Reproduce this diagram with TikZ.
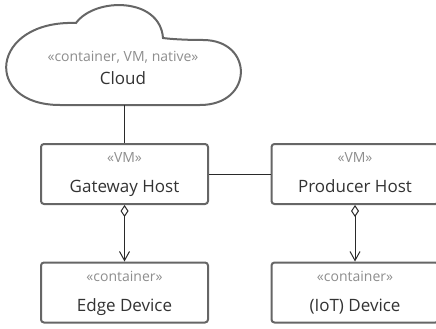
\documentclass[tikz,border=0pt]{standalone}
\usepackage{fontspec}
\setmainfont{Open Sans}
\usetikzlibrary{arrows.meta}
\definecolor{boxline}{HTML}{666666}
\definecolor{conn}{HTML}{2A2A2A}
\definecolor{stereo}{HTML}{8E8E8E}
\definecolor{txt}{HTML}{333333}
\tikzset{
  hostbox/.style={draw=boxline, line width=2pt, rounded corners=3pt, fill=white,
    minimum width=167pt, minimum height=60pt, inner sep=0pt},
  stereolbl/.style={anchor=base, inner sep=0pt, text=stereo, font=\fontsize{14}{16}\selectfont},
  namelbl/.style={anchor=base, inner sep=0pt, text=txt, font=\fontsize{17}{20}\selectfont},
  conline/.style={draw=conn, line width=1pt},
  aggr/.style={conline, {Diamond[open,length=12pt,width=8pt,line width=1pt]}-{Straight Barb[length=9pt,width=10pt,line width=1pt]}},
}
\begin{document}
\begin{tikzpicture}[x=1pt,y=-1pt]
\useasboundingbox (0,0) rectangle (436,329);
\clip (0,0) rectangle (436,329);
% cloud
\draw[boxline, line width=2pt, fill=white]
  (60,105) -- (200,105)
  .. controls (254,105) and (254,40) .. (203,40)
  .. controls (185,40) and (170,39) .. (163,38)
  .. controls (160,-3) and (95,-3) .. (76,23)
  .. controls (-10,20) and (-18,105) .. (60,105) -- cycle;
\node[stereolbl] (cloudst) at (123,61) {«container, VM, native»};
\node[namelbl] (cloudnm) at (123,84) {Cloud};
\coordinate (cloudbot) at (124.5,105);
% boxes
\node[hostbox] (gw) at (124.5,174) {};
\node[hostbox] (prod) at (355,174) {};
\node[hostbox] (edge) at (124.5,292.5) {};
\node[hostbox] (iot) at (355,292.5) {};
\node[stereolbl] (gwst) at ([yshift=11.5pt]gw.center) {«VM»};
\node[namelbl] (gwnm) at ([yshift=-18.5pt]gw.center) {Gateway Host};
\node[stereolbl] (prodst) at ([yshift=11.5pt]prod.center) {«VM»};
\node[namelbl] (prodnm) at ([yshift=-18.5pt]prod.center) {Producer Host};
\node[stereolbl] (edgest) at ([yshift=11.5pt]edge.center) {«container»};
\node[namelbl] (edgenm) at ([yshift=-18.5pt]edge.center) {Edge Device};
\node[stereolbl] (iotst) at ([yshift=11.5pt]iot.center) {«container»};
\node[namelbl] (iotnm) at ([yshift=-18.5pt]iot.center) {(IoT) Device};
% connectors
\draw[conline] (cloudbot) -- (gw.north);
\draw[conline] (gw.east) -- (prod.west);
\draw[aggr] (gw.south) -- (edge.north);
\draw[aggr] (prod.south) -- (iot.north);
\end{tikzpicture}
\end{document}
